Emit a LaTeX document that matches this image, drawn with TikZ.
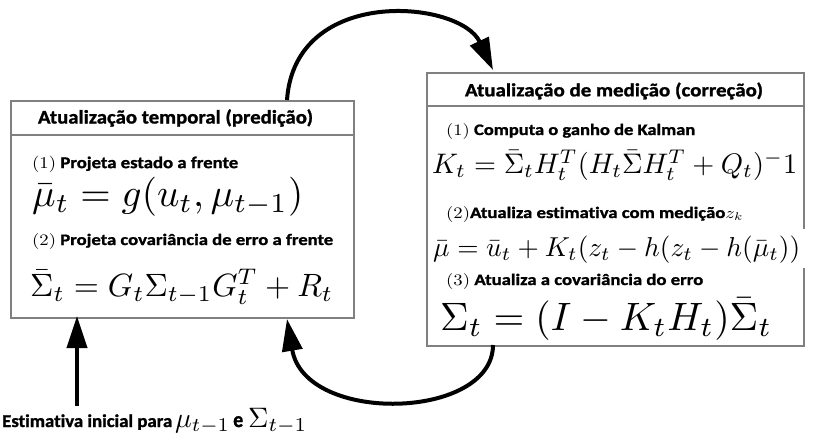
\documentclass[tikz,border=0pt]{standalone}
\usepackage{fontspec}
\usepackage{graphicx}
\usetikzlibrary{arrows.meta}
\newfontfamily\carlito{Carlito}[Ligatures=NoCommon, BoldFeatures={FakeBold=1.2}]
\begin{document}
\begin{tikzpicture}[x=1pt,y=-1pt,
  boxline/.style={draw={rgb,255:red,128;green,128;blue,128}, line width=2pt},
  panel/.style={boxline, inner sep=0pt, anchor=north west},
  txt/.style={anchor=west, inner sep=0pt, font=\carlito\bfseries},
  bigarrow/.style={line width=4pt, -{Triangle[length=32pt,width=20pt]}}]
\useasboundingbox (0,0) rectangle (814,440);
\fill[white] (0,0) rectangle (814,440);

% panels
\node[panel, minimum width=343pt, minimum height=217pt] (L) at (10,100) {};
\draw[boxline] (10,135) -- (353,135);
\node[panel, minimum width=377pt, minimum height=273pt] (R) at (426,72) {};
\draw[boxline] (426,106) -- (803,106);

% left panel text
\node[txt, anchor=center] (Lh) at (175.5,118) {\resizebox*{275pt}{17.5pt}{Atualização temporal (predição)}};
\node[txt] (L1) at (32,164) {\resizebox*{206pt}{16.5pt}{\textnormal{(1)} Projeta estado a frente}};
\node[txt] (Lf1) at (32,197) {\resizebox{271pt}{!}{$\bar{\mu}_t = g(u_t, \mu_{t-1})$}};
\node[txt] (L2) at (32,241) {\resizebox*{301pt}{16pt}{\textnormal{(2)} Projeta covariância de erro a frente}};
\node[txt] (Lf2) at (30,287) {\resizebox{303pt}{!}{$\bar{\Sigma}_t = G_t \Sigma_{t-1} G_t^T + R_t$}};

% right panel text
\node[txt, anchor=center] (Rh) at (614,91) {\resizebox*{298pt}{17pt}{Atualização de medição (correção)}};
\node[txt] (R1) at (446,131) {\resizebox*{249pt}{16pt}{\textnormal{(1)} Computa o ganho de Kalman}};
\node[txt] (Rf1) at (432,165) {\resizebox{365pt}{!}{$K_t = \bar{\Sigma}_t H_t^T (H_t \bar{\Sigma} H_t^T + Q_t)^-1$}};
\node[txt] (R2) at (446,214) {\resizebox*{297pt}{16pt}{\textnormal{(2)}Atualiza estimativa com medição$z_k$}};
\fill[white] (429,229) rectangle (809,268);
\node[txt] (Rf2) at (433,250) {\resizebox{367pt}{!}{$\bar{\mu} = \bar{u}_t + K_t(z_t - h(z_t - h(\bar{\mu}_t))$}};
\node[txt] (R3) at (446,281) {\resizebox*{257pt}{16pt}{\textnormal{(3)} Atualiza a covariância do erro}};
\node[txt] (Rf3) at (440,319) {\resizebox{332pt}{!}{$\Sigma_t = (I - K_t H_t)\bar{\Sigma}_t$}};

% bottom label
\node[txt, anchor=base west] (lab) at (2,427) {\resizebox*{170pt}{15.5pt}{Estimativa inicial para}\hspace{3pt}\resizebox{55pt}{!}{$\mu_{t-1}$}\hspace{3pt}\resizebox*{10pt}{11pt}{e}\hspace{5pt}\resizebox{59pt}{!}{$\Sigma_{t-1}$}};

% arrows
\coordinate (a1s) at (287,100);
\coordinate (a1e) at (493,70);
\draw[bigarrow] (a1s) .. controls (295,-15) and (460,0) .. (a1e);
\coordinate (a2s) at (493,345);
\coordinate (a2e) at (287,319);
\draw[bigarrow] (a2s) .. controls (493,420) and (305,425) .. (a2e);
\coordinate (a3s) at (77,406);
\coordinate (a3e) at (77,316);
\draw[bigarrow] (a3s) -- (a3e);
\end{tikzpicture}
\end{document}
